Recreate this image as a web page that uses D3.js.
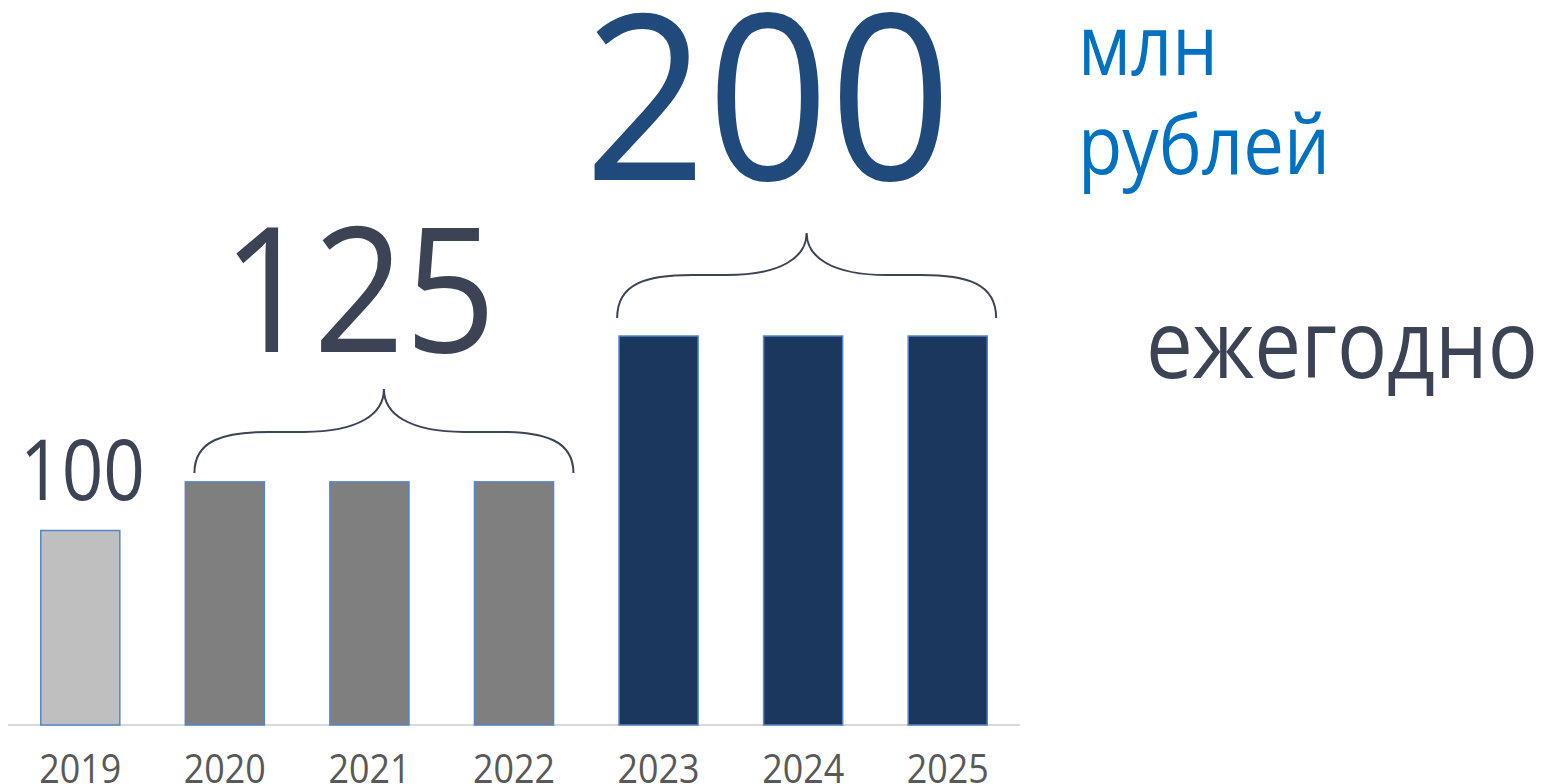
<!DOCTYPE html>
<html>
<head>
<meta charset="utf-8">
<script src="https://cdn.jsdelivr.net/npm/d3@7"></script>
<style>
  body { margin: 0; background: #fff; overflow: hidden; }
  text { font-family: "Open Sans", "Noto Sans", sans-serif; }
</style>
</head>
<body>
<div class="graph-pane"></div>
<script>
// chart data
const years = ["2019", "2020", "2021", "2022", "2023", "2024", "2025"];
const values = [100, 125, 125, 125, 200, 200, 200];
const barColors = ["#bfbfbf", "#7f7f7f", "#7f7f7f", "#7f7f7f", "#1b375e", "#1b375e", "#1b375e"];
// groups that get a brace + big label
const groups = [
  {from: "2020", to: "2022", value: 125, label: "125"},
  {from: "2023", to: "2025", value: 200, label: "200"}
];
const unitLines = ["млн", "рублей"];
const periodText = "ежегодно";

const W = 1542, H = 784;
const svg = d3.select(".graph-pane").append("svg")
  .attr("width", W).attr("height", H);

const xScale = d3.scaleBand().domain(years).range([8, 1020]).paddingInner(0.453).paddingOuter(0.2265);
const yScale = d3.scaleLinear().domain([0, 200]).range([725, 336]);

// axis line
svg.append("line")
  .attr("x1", 8).attr("x2", 1020)
  .attr("y1", yScale(0)).attr("y2", yScale(0))
  .style("stroke", "#d9d9d9").style("stroke-width", 2);

// bars
svg.append("g").selectAll("rect")
  .data(years)
  .join("rect")
  .attr("x", d => xScale(d))
  .attr("y", (d, i) => yScale(values[i]))
  .attr("width", xScale.bandwidth())
  .attr("height", (d, i) => yScale(0) - yScale(values[i]))
  .style("fill", (d, i) => barColors[i])
  .style("stroke", "#5487c8")
  .style("stroke-width", 1.5);

// year labels (bottom gets clipped by the frame, like the original slide)
const xAxis = d3.axisBottom(xScale).tickSize(0).tickPadding(0);
const axisG = svg.append("g")
  .attr("transform", "translate(0," + 755 + ")")
  .call(xAxis);
axisG.select(".domain").remove();
axisG.selectAll("text")
  .attr("dy", "0.71em")
  .attr("y", 0)
  .style("font-size", "40px")
  .style("fill", "#595959")
  .attr("textLength", 82)
  .attr("lengthAdjust", "spacingAndGlyphs");

// curly braces over groups
function bracePath(x0, x1, yb, yh, yt) {
  const xm = (x0 + x1) / 2;
  return "M" + x0 + "," + yb +
    " C" + x0 + "," + (yh + 8) + " " + (x0 + 30) + "," + yh + " " + (x0 + 75) + "," + yh +
    " L" + (xm - 80) + "," + yh +
    " C" + (xm - 25) + "," + yh + " " + xm + "," + (yh - 18) + " " + xm + "," + yt +
    " C" + xm + "," + (yh - 18) + " " + (xm + 25) + "," + yh + " " + (xm + 80) + "," + yh +
    " L" + (x1 - 75) + "," + yh +
    " C" + (x1 - 30) + "," + yh + " " + x1 + "," + (yh + 8) + " " + x1 + "," + yb;
}

// hand-tuned brace placement per group: x shift, gap above bar, height
const braceLayout = [
  {shift: 14.5, gap: 9, mid: 50, tip: 93},
  {shift: 3.5, gap: 18, mid: 61, tip: 103}
];

groups.forEach((g, i) => {
  const lay = braceLayout[i];
  const left = xScale(g.from), right = xScale(g.to) + xScale.bandwidth();
  const cx = (left + right) / 2 + lay.shift;
  const half = 189.5;
  const top = yScale(g.value);
  svg.append("path")
    .attr("d", bracePath(cx - half, cx + half, top - lay.gap, top - lay.mid, top - lay.tip))
    .style("fill", "none")
    .style("stroke", "#3b4355")
    .style("stroke-width", 2);
});

// value labels
svg.append("text")
  .attr("x", 20).attr("y", 500)
  .attr("textLength", 125).attr("lengthAdjust", "spacingAndGlyphs")
  .style("font-size", "84px").style("fill", "#3b4355")
  .text(values[0]);

svg.append("text")
  .attr("x", 222).attr("y", 352)
  .attr("textLength", 274).attr("lengthAdjust", "spacingAndGlyphs")
  .style("font-size", "174px").style("fill", "#3b4355")
  .text(groups[0].label);

svg.append("text")
  .attr("x", 584).attr("y", 180)
  .attr("textLength", 368).attr("lengthAdjust", "spacingAndGlyphs")
  .style("font-size", "231px").style("fill", "#214a7c")
  .text(groups[1].label);

// units
svg.append("text")
  .attr("x", 1078).attr("y", 75)
  .style("font-size", "84px").style("fill", "#0070c0")
  .attr("textLength", 140).attr("lengthAdjust", "spacingAndGlyphs")
  .text(unitLines[0]);
svg.append("text")
  .attr("x", 1078).attr("y", 174)
  .style("font-size", "82px").style("fill", "#0070c0")
  .attr("textLength", 252).attr("lengthAdjust", "spacingAndGlyphs")
  .text(unitLines[1]);

svg.append("text")
  .attr("x", 1146).attr("y", 378)
  .style("font-size", "95px").style("fill", "#3b4355")
  .attr("textLength", 392).attr("lengthAdjust", "spacingAndGlyphs")
  .text(periodText);
</script>
</body>
</html>
